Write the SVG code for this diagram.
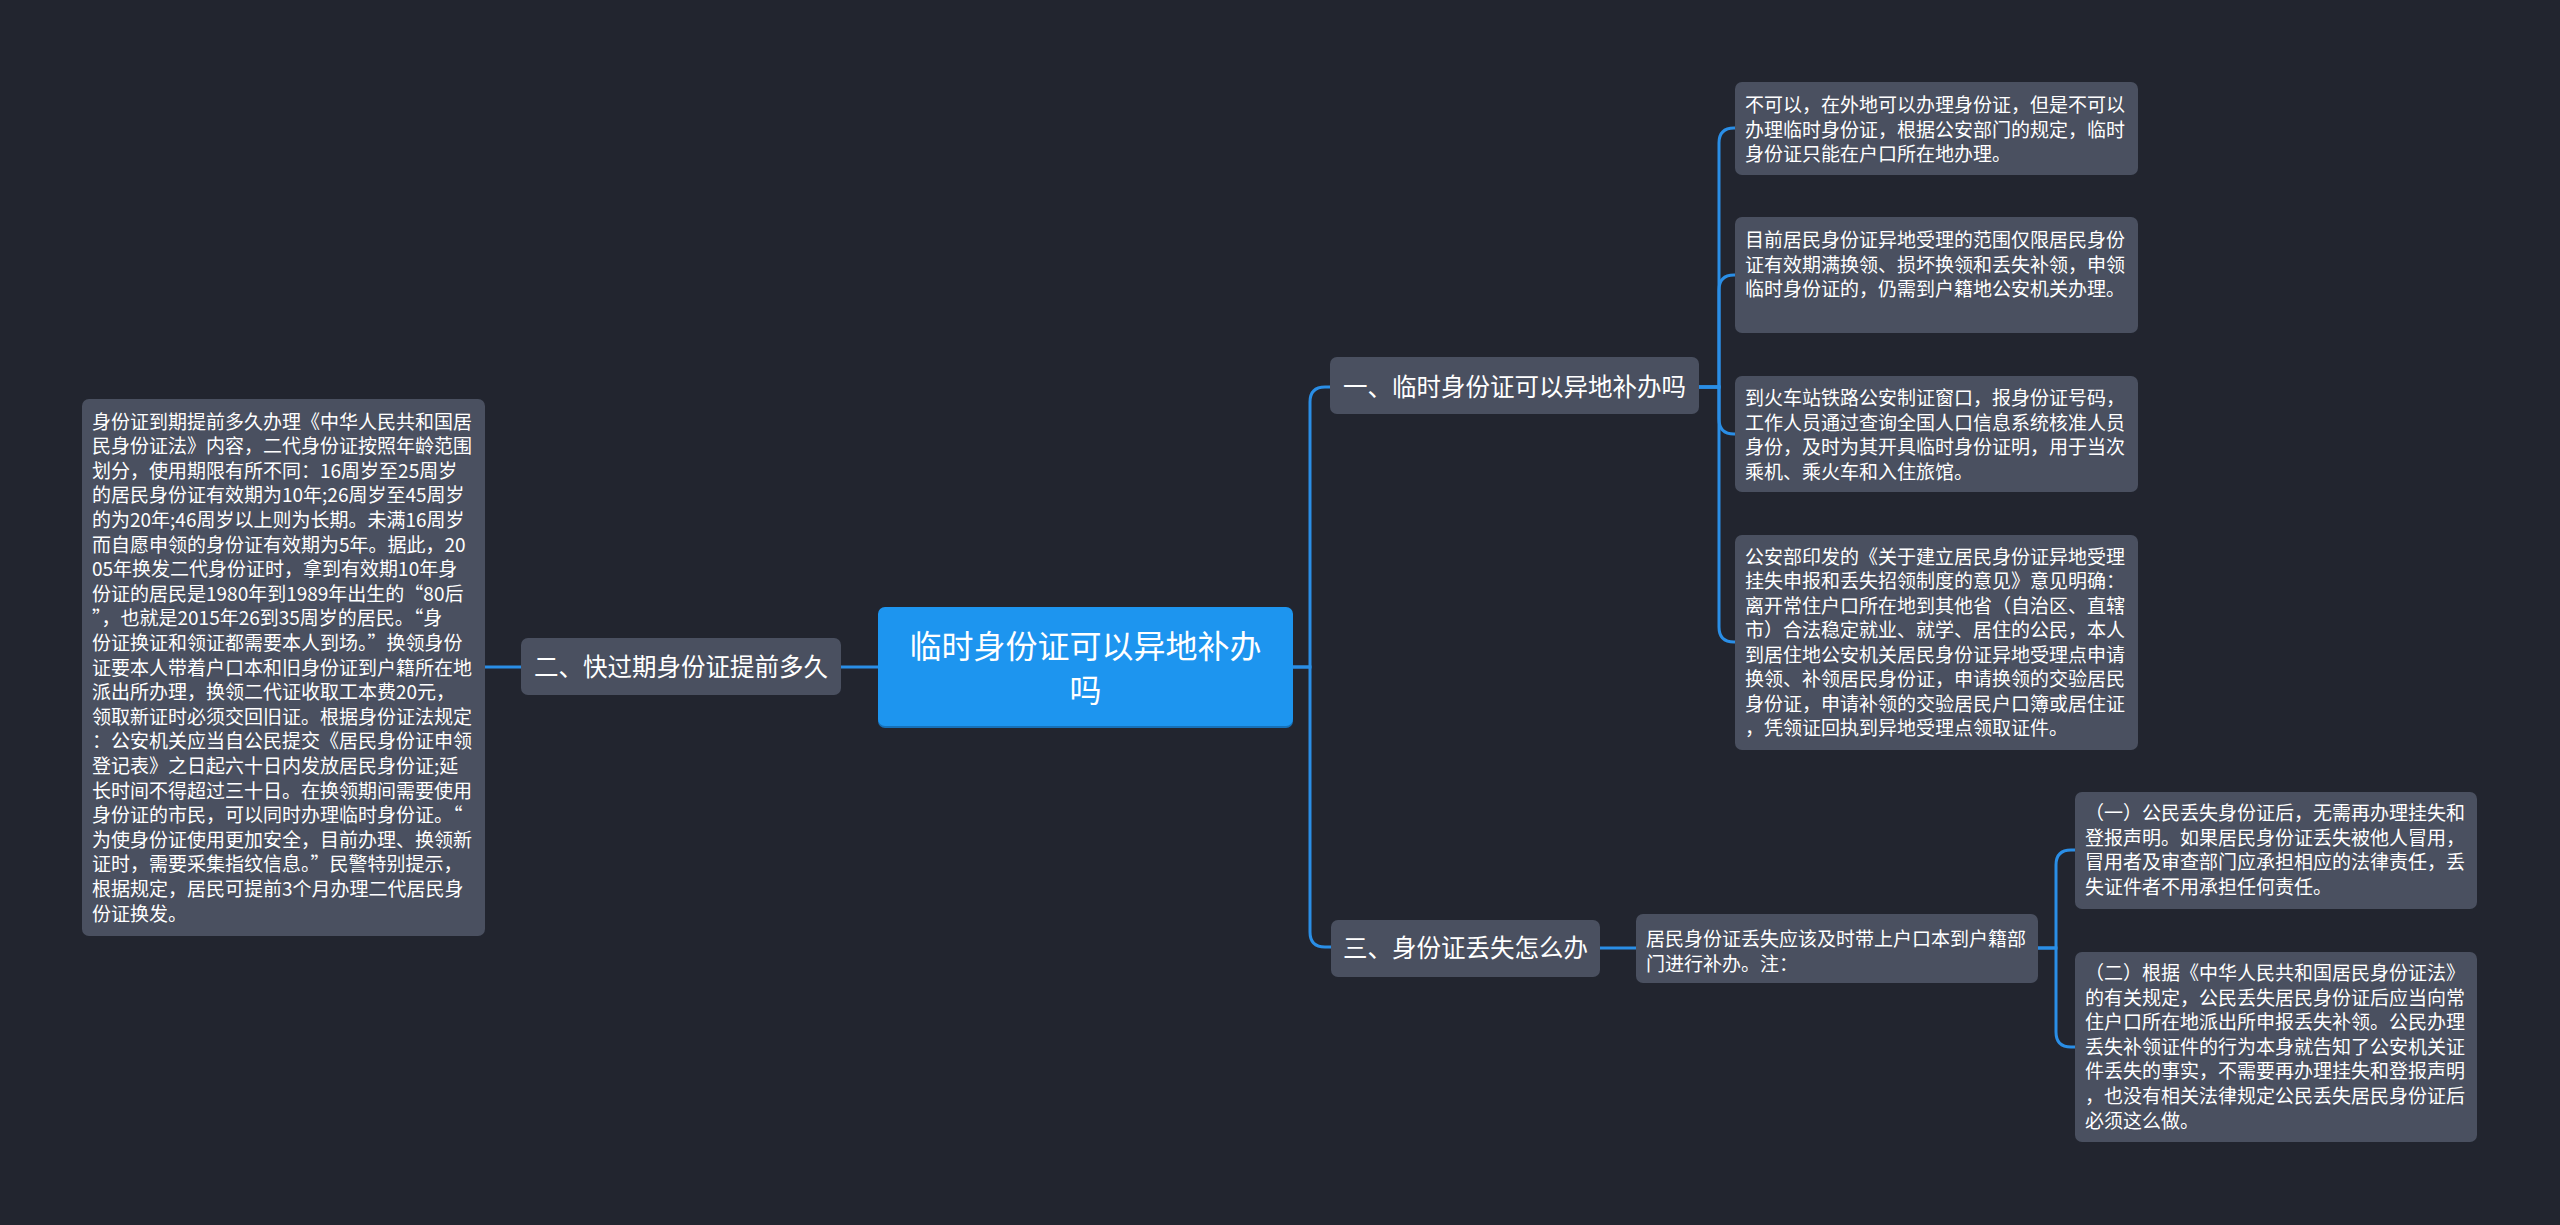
<svg xmlns="http://www.w3.org/2000/svg" width="2560" height="1225" viewBox="0 0 2560 1225">
<style>
.bg{fill:#22252f}
.n{fill:#4a5060}
.root{fill:#1d95ef}
.c{fill:none;stroke:#2a8ee6;stroke-width:3}
text{font-family:"Noto Sans CJK SC","Noto Sans",sans-serif;fill:#ffffff}
.t1{font-size:24.5px;text-anchor:middle}
.t0{font-size:32px;text-anchor:middle}
.t2{font-size:19px}
</style>
<rect class="bg" x="0" y="0" width="2560" height="1225"/>
<g id="connectors">
<path class="c" d="M485 667 H521"/>
<path class="c" d="M841 667 H878"/>
<path class="c" d="M1293 667 H1310 V402 Q1310 387 1325 387 H1331"/>
<path class="c" d="M1293 667 H1310 V932 Q1310 947 1325 947 H1331"/>
<path class="c" d="M1699 387 H1719 V143 Q1719 128 1734 128 H1736"/>
<path class="c" d="M1699 387 H1719 V290 Q1719 275 1734 275 H1736"/>
<path class="c" d="M1699 387 H1719 V419 Q1719 434 1734 434 H1736"/>
<path class="c" d="M1699 387 H1719 V627 Q1719 642 1734 642 H1736"/>
<path class="c" d="M1600 948 H1636"/>
<path class="c" d="M2038 948 H2056 V865 Q2056 850 2071 850 H2076"/>
<path class="c" d="M2038 948 H2056 V1032 Q2056 1047 2071 1047 H2076"/>
</g>
<g id="root">
<rect x="878" y="609" width="415" height="119" rx="7" fill="#1670b8"/>
<rect class="root" x="878" y="607" width="415" height="119" rx="7"/>
<text class="t0" x="1085.5" y="658">临时身份证可以异地补办</text>
<text class="t0" x="1085.5" y="701.5">吗</text>
</g>
<g id="n2">
<rect class="n" x="521" y="638" width="320" height="57" rx="7"/>
<text class="t1" x="681" y="676">二、快过期身份证提前多久</text>
</g>
<g id="n2a">
<rect class="n" x="82" y="399" width="403" height="537" rx="7"/>
<text class="t2" x="92" y="428.5">身份证到期提前多久办理《中华人民共和国居</text>
<text class="t2" x="92" y="453.1">民身份证法》内容，二代身份证按照年龄范围</text>
<text class="t2" x="92" y="477.7">划分，使用期限有所不同：16周岁至25周岁</text>
<text class="t2" x="92" y="502.3">的居民身份证有效期为10年;26周岁至45周岁</text>
<text class="t2" x="92" y="526.9">的为20年;46周岁以上则为长期。未满16周岁</text>
<text class="t2" x="92" y="551.5">而自愿申领的身份证有效期为5年。据此，20</text>
<text class="t2" x="92" y="576.1">05年换发二代身份证时，拿到有效期10年身</text>
<text class="t2" x="92" y="600.7">份证的居民是1980年到1989年出生的“80后</text>
<text class="t2" x="92" y="625.3">”，也就是2015年26到35周岁的居民。“身</text>
<text class="t2" x="92" y="649.9">份证换证和领证都需要本人到场。”换领身份</text>
<text class="t2" x="92" y="674.5">证要本人带着户口本和旧身份证到户籍所在地</text>
<text class="t2" x="92" y="699.1">派出所办理，换领二代证收取工本费20元，</text>
<text class="t2" x="92" y="723.7">领取新证时必须交回旧证。根据身份证法规定</text>
<text class="t2" x="92" y="748.3">：公安机关应当自公民提交《居民身份证申领</text>
<text class="t2" x="92" y="772.9">登记表》之日起六十日内发放居民身份证;延</text>
<text class="t2" x="92" y="797.5">长时间不得超过三十日。在换领期间需要使用</text>
<text class="t2" x="92" y="822.1">身份证的市民，可以同时办理临时身份证。“</text>
<text class="t2" x="92" y="846.7">为使身份证使用更加安全，目前办理、换领新</text>
<text class="t2" x="92" y="871.3">证时，需要采集指纹信息。”民警特别提示，</text>
<text class="t2" x="92" y="895.9">根据规定，居民可提前3个月办理二代居民身</text>
<text class="t2" x="92" y="920.5">份证换发。</text>
</g>
<g id="n1">
<rect class="n" x="1330" y="357" width="369" height="57" rx="7"/>
<text class="t1" x="1514.5" y="396">一、临时身份证可以异地补办吗</text>
</g>
<g id="n1a">
<rect class="n" x="1735" y="82" width="403" height="93" rx="7"/>
<text class="t2" x="1745" y="112">不可以，在外地可以办理身份证，但是不可以</text>
<text class="t2" x="1745" y="136.5">办理临时身份证，根据公安部门的规定，临时</text>
<text class="t2" x="1745" y="161">身份证只能在户口所在地办理。</text>
</g>
<g id="n1b">
<rect class="n" x="1735" y="217" width="403" height="116" rx="7"/>
<text class="t2" x="1745" y="247">目前居民身份证异地受理的范围仅限居民身份</text>
<text class="t2" x="1745" y="271.5">证有效期满换领、损坏换领和丢失补领，申领</text>
<text class="t2" x="1745" y="296">临时身份证的，仍需到户籍地公安机关办理。</text>
</g>
<g id="n1c">
<rect class="n" x="1735" y="376" width="403" height="116" rx="7"/>
<text class="t2" x="1745" y="405">到火车站铁路公安制证窗口，报身份证号码，</text>
<text class="t2" x="1745" y="429.5">工作人员通过查询全国人口信息系统核准人员</text>
<text class="t2" x="1745" y="454">身份，及时为其开具临时身份证明，用于当次</text>
<text class="t2" x="1745" y="478.5">乘机、乘火车和入住旅馆。</text>
</g>
<g id="n1d">
<rect class="n" x="1735" y="535" width="403" height="215" rx="7"/>
<text class="t2" x="1745" y="563.5">公安部印发的《关于建立居民身份证异地受理</text>
<text class="t2" x="1745" y="588">挂失申报和丢失招领制度的意见》意见明确：</text>
<text class="t2" x="1745" y="612.5">离开常住户口所在地到其他省（自治区、直辖</text>
<text class="t2" x="1745" y="637">市）合法稳定就业、就学、居住的公民，本人</text>
<text class="t2" x="1745" y="661.5">到居住地公安机关居民身份证异地受理点申请</text>
<text class="t2" x="1745" y="686">换领、补领居民身份证，申请换领的交验居民</text>
<text class="t2" x="1745" y="710.5">身份证，申请补领的交验居民户口簿或居住证</text>
<text class="t2" x="1745" y="735">，凭领证回执到异地受理点领取证件。</text>
</g>
<g id="n3">
<rect class="n" x="1331" y="920" width="269" height="57" rx="7"/>
<text class="t1" x="1465.5" y="957">三、身份证丢失怎么办</text>
</g>
<g id="n3a">
<rect class="n" x="1636" y="914" width="402" height="69" rx="7"/>
<text class="t2" x="1646" y="946">居民身份证丢失应该及时带上户口本到户籍部</text>
<text class="t2" x="1646" y="971">门进行补办。注：</text>
</g>
<g id="n3b">
<rect class="n" x="2075" y="792" width="402" height="117" rx="7"/>
<text class="t2" x="2085" y="820">（一）公民丢失身份证后，无需再办理挂失和</text>
<text class="t2" x="2085" y="844.6">登报声明。如果居民身份证丢失被他人冒用，</text>
<text class="t2" x="2085" y="869.2">冒用者及审查部门应承担相应的法律责任，丢</text>
<text class="t2" x="2085" y="893.8">失证件者不用承担任何责任。</text>
</g>
<g id="n3c">
<rect class="n" x="2075" y="952" width="402" height="190" rx="7"/>
<text class="t2" x="2085" y="980">（二）根据《中华人民共和国居民身份证法》</text>
<text class="t2" x="2085" y="1004.6">的有关规定，公民丢失居民身份证后应当向常</text>
<text class="t2" x="2085" y="1029.2">住户口所在地派出所申报丢失补领。公民办理</text>
<text class="t2" x="2085" y="1053.8">丢失补领证件的行为本身就告知了公安机关证</text>
<text class="t2" x="2085" y="1078.4">件丢失的事实，不需要再办理挂失和登报声明</text>
<text class="t2" x="2085" y="1103">，也没有相关法律规定公民丢失居民身份证后</text>
<text class="t2" x="2085" y="1127.6">必须这么做。</text>
</g>
</svg>
